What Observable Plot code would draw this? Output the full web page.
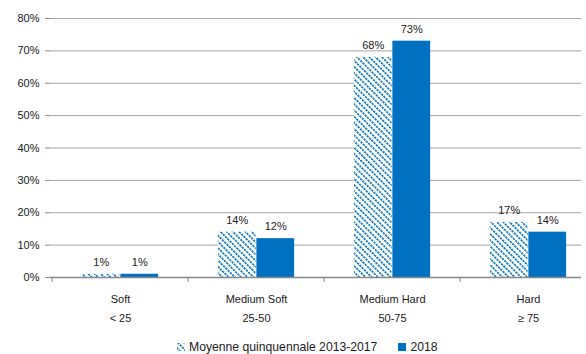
<!DOCTYPE html>
<html><head><meta charset="utf-8">
<script src="https://cdn.jsdelivr.net/npm/d3@7"></script>
<script src="https://cdn.jsdelivr.net/npm/@observablehq/plot@0.6"></script>
<style>
body{margin:0;background:#fff;font-family:"Liberation Sans",Arial,sans-serif;}
#legend{display:flex;align-items:center;height:18px;padding-top:2px;padding-left:177px;font-size:12.2px;color:#222;}
#legend .item{display:flex;align-items:center;margin-right:21px;}
#legend svg{margin-right:4px;}
</style>
</head><body>
<div id="chart"></div>
<div id="legend"></div>
<script>
const categories = ["Soft", "Medium Soft", "Medium Hard", "Hard"];
const ranges = ["< 25", "25-50", "50-75", "≥ 75"];
const seriesNames = ["Moyenne quinquennale 2013-2017", "2018"];
const avgValues = [1, 14, 68, 17];
const values2018 = [1, 12, 73, 14];
const yTicks = [0, 10, 20, 30, 40, 50, 60, 70, 80];

const BLUE = "#0070C0";
const W = 586, H = 336;
const x0 = 50, x1 = 597;
const band = (x1 - x0) / categories.length;
const barW = 38.5;
const outer = band / 2 - barW;
const half = band / 2;

const rows = [];
categories.forEach((c, i) => {
  rows.push({cat: c, series: seriesNames[0], value: avgValues[i]});
  rows.push({cat: c, series: seriesNames[1], value: values2018[i]});
});
const avgRows = rows.filter(d => d.series === seriesNames[0]);
const newRows = rows.filter(d => d.series === seriesNames[1]);

const plot = Plot.plot({
  width: W, height: H,
  marginLeft: 50, marginRight: 5, marginTop: 18, marginBottom: H - 277,
  style: {fontFamily: "'Liberation Sans', Arial, sans-serif", fontSize: "11px", color: "#222", background: "#fff"},
  x: {domain: categories, range: [x0, x1], padding: 0, label: null},
  y: {domain: [0, 80], label: null},
  marks: [
    Plot.ruleY(yTicks.filter(d => d > 0), {stroke: "#a6a6a6", strokeWidth: 1}),
    Plot.barY(avgRows, {x: "cat", y: "value", fill: "url(#hatch)", insetLeft: outer, insetRight: half}),
    Plot.barY(newRows, {x: "cat", y: "value", fill: BLUE, insetLeft: half, insetRight: outer}),
    Plot.text(avgRows, {x: "cat", y: "value", text: d => d.value + "%", dx: -barW / 2, dy: -12, fill: "#222", fontSize: 11}),
    Plot.text(newRows, {x: "cat", y: "value", text: d => d.value + "%", dx: barW / 2, dy: -12, fill: "#222", fontSize: 11}),
    Plot.ruleY([0], {stroke: "#888", strokeWidth: 1.6}),
    Plot.ruleX([0], {x: () => x0, stroke: "#888"}),
    Plot.ruleX(categories, {x: d => d, dx: -half, y1: 0, y2: -1.6, stroke: "#888"}),
    Plot.axisY({ticks: yTicks, tickFormat: d => d + "%", tickSize: 5, tickPadding: 6, stroke: "#888", fill: "#222", fontSize: 11, label: null}),
    Plot.axisX({tickFormat: (d) => d + "\n" + ranges[categories.indexOf(d)], tickSize: 0, tickPadding: 12, lineHeight: 1.75, fill: "#222", fontSize: 11, label: null})
  ]
});
document.getElementById("chart").appendChild(plot);

// hatch pattern definition: dashed "\" diagonals
const defs = d3.select(plot).insert("defs", ":first-child");
const pat = defs.append("pattern").attr("id", "hatch").attr("patternUnits", "userSpaceOnUse")
  .attr("width", 4.4).attr("height", 3.2).attr("patternTransform", "rotate(-45)");
pat.append("rect").attr("width", 4.4).attr("height", 3.2).attr("fill", "#fff");
pat.append("rect").attr("x", 0).attr("y", 0).attr("width", 1.6).attr("height", 2.3).attr("fill", BLUE);

// legend
const legend = d3.select("#legend");
seriesNames.forEach((name, i) => {
  const item = legend.append("div").attr("class", "item");
  const s = item.append("svg").attr("width", 8).attr("height", 8);
  s.append("rect").attr("width", 8).attr("height", 8).attr("fill", i === 0 ? "url(#hatch)" : BLUE);
  item.append("span").text(name);
});
</script>
</body></html>
